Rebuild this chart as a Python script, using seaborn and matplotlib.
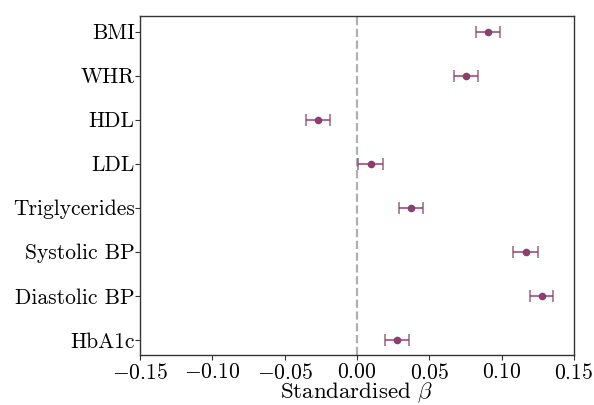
import matplotlib
matplotlib.use("Agg")
import matplotlib.pyplot as plt
import seaborn as sns
import pandas as pd

# values
traits = ["BMI", "WHR", "HDL", "LDL", "Triglycerides", "Systolic BP", "Diastolic BP", "HbA1c"]
beta = [0.0903, 0.0756, -0.0270, 0.0094, 0.0373, 0.1166, 0.1278, 0.0276]
ci_low = [0.0820, 0.0673, -0.0352, 0.0009, 0.0290, 0.1078, 0.1198, 0.0191]
ci_high = [0.0988, 0.0838, -0.0187, 0.0182, 0.0458, 0.1253, 0.1359, 0.0362]

df = pd.DataFrame({"trait": traits, "beta": beta, "lo": ci_low, "hi": ci_high})
df["pos"] = range(len(df))

sns.set_style("ticks")
plt.rcParams["font.family"] = ["cmr10", "DejaVu Sans"]
plt.rcParams["mathtext.fontset"] = "cm"
plt.rcParams["axes.formatter.use_mathtext"] = True
plt.rcParams["text.color"] = "black"
plt.rcParams["xtick.labelcolor"] = "black"
plt.rcParams["ytick.labelcolor"] = "black"
plt.rcParams["axes.labelcolor"] = "black"

col = "#8a3f6c"
fig, ax = plt.subplots(figsize=(5.94, 4.05), dpi=100)
ax.axvline(0, color="#b0b0b0", ls="--", lw=1.6, zorder=0)
ax.errorbar(df["beta"], df["pos"],
            xerr=[df["beta"] - df["lo"], df["hi"] - df["beta"]],
            fmt="none", ecolor=col, alpha=0.75, capsize=4, elinewidth=1.5, capthick=1.2)
sns.scatterplot(data=df, x="beta", y="pos", color=col, s=30, edgecolor=col, linewidth=0, ax=ax, zorder=3)

ax.set_yticks(df["pos"])
ax.set_yticklabels(traits)
ax.set_ylim(7.35, -0.35)
ax.set_xlim(-0.15, 0.15)
ax.set_xticks([-0.15, -0.10, -0.05, 0.0, 0.05, 0.10, 0.15])
ax.set_xlabel(r"Standardised $\beta$", fontsize=16.5, labelpad=-1.5)
ax.set_ylabel("")
ax.tick_params(labelsize=15.5, length=3.5, color="#333333", pad=2)
ax.tick_params(axis="y", pad=0.5)
for s in ax.spines.values():
    s.set_color("#333333")
    s.set_linewidth(1.0)

plt.subplots_adjust(left=0.236, right=0.966, top=0.96, bottom=0.123)
plt.savefig("out.png", dpi=100)
